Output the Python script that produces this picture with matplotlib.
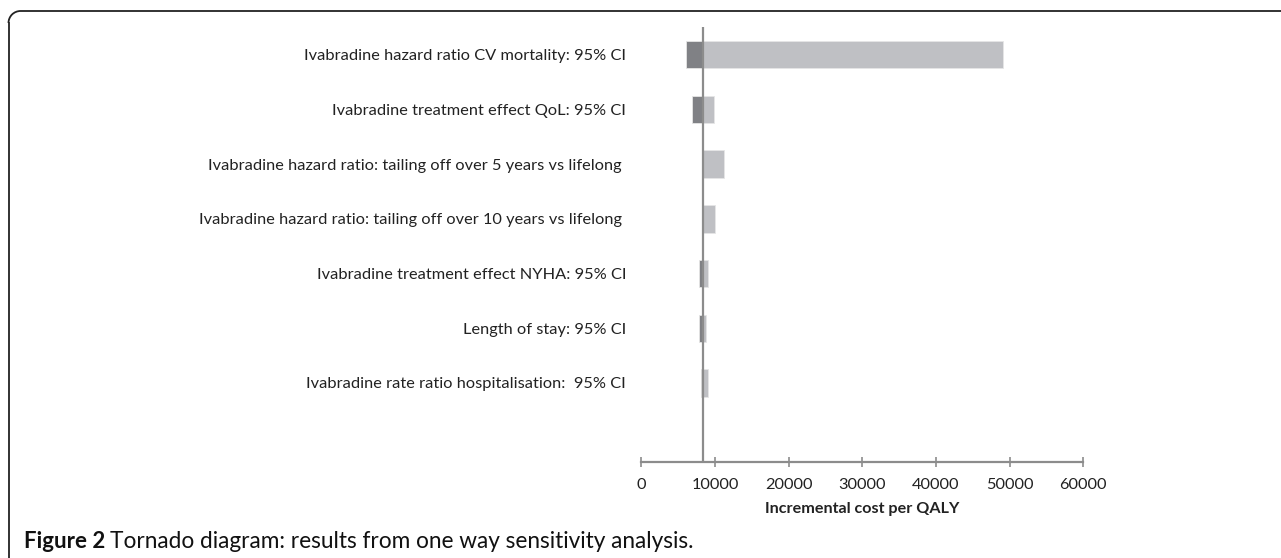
import matplotlib
matplotlib.use('Agg')
import matplotlib.pyplot as plt
from matplotlib.lines import Line2D
from matplotlib.patches import Arc

params = ['Ivabradine hazard ratio CV mortality: 95% CI',
          'Ivabradine treatment effect QoL: 95% CI',
          'Ivabradine hazard ratio: tailing off over 5 years vs lifelong ',
          'Ivabradine hazard ratio: tailing off over 10 years vs lifelong ',
          'Ivabradine treatment effect NYHA: 95% CI',
          'Length of stay: 95% CI',
          'Ivabradine rate ratio hospitalisation:  95% CI']
base = 8350
low = [6030, 6840, 8350, 8350, 7830, 7870, 8100]
high = [49140, 9910, 11180, 10000, 9010, 8780, 9010]
xticks = [0, 10000, 20000, 30000, 40000, 50000, 60000]

plt.rcParams['font.family'] = ['Lato', 'DejaVu Sans']
fig = plt.figure(figsize=(12.81, 5.58), dpi=100)
W, H = 1281, 558
ax = fig.add_axes([641.3 / W, 1 - 462 / H, 442 / W, (462 - 27.4) / H])

y = list(range(len(params)))
ax.barh(y, [base - l for l in low], left=low, height=0.5, color='#808185',
        edgecolor='#e6e6e6', lw=0.6, zorder=2)
ax.barh(y, [h - base for h in high], left=base, height=0.5, color='#bfc0c4',
        edgecolor='#e6e6e6', lw=0.6, zorder=2)
ax.axvline(base, color='#8c8c8c', lw=1.6, zorder=3)

ax.set_xlim(0, 60000)
ax.set_ylim(7.445, -0.5)
ax.set_yticks(y)
ax.set_yticklabels(params, fontsize=11.8, color='#222222')
ax.tick_params(axis='y', length=0, pad=11)
ax.set_xticks(xticks)
ax.set_xticklabels([str(t) for t in xticks], fontsize=11.8, color='#222222')
ax.tick_params(axis='x', direction='inout', length=7, width=1.2, color='#8c8c8c', pad=8)
for s in ['top', 'right', 'left']:
    ax.spines[s].set_visible(False)
ax.spines['bottom'].set_color('#8c8c8c')
ax.spines['bottom'].set_linewidth(1.6)
ax.set_xlabel('Incremental cost per QALY', fontsize=11.6, fontweight='bold',
              color='#222222', labelpad=7.5)

# frame: left edge and top edge with rounded corner
r = 12
fx0, fy0 = 8.5, 11
fig.add_artist(Line2D([fx0 / W, fx0 / W], [0, 1 - (fy0 + r) / H], color='#222222', lw=1.3))
fig.add_artist(Line2D([(fx0 + r) / W, 1], [1 - fy0 / H, 1 - fy0 / H], color='#222222', lw=1.3))
fig.add_artist(Arc(((fx0 + r) / W, 1 - (fy0 + r) / H), 2 * r / W, 2 * r / H,
                   theta1=90, theta2=180, color='#222222', lw=1.3,
                   transform=fig.transFigure))

fig.text(24 / W, 1 - 541 / H, 'Figure 2', fontsize=16, fontweight='bold',
         va='center', ha='left', color='#111111')
fig.text(110 / W, 1 - 541 / H, 'Tornado diagram: results from one way sensitivity analysis.',
         fontsize=16.3, va='center', ha='left', color='#111111')

fig.savefig('out.png', dpi=100)
